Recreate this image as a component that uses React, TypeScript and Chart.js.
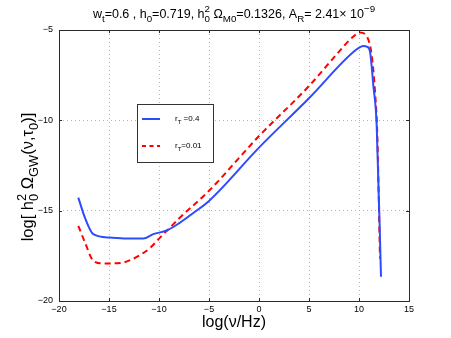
import React, { useEffect, useRef } from "react";
import { Chart, registerables } from "chart.js";

Chart.register(...registerables);

const blueX = [-18.07, -17.4, -16.57, -14.9, -13.23, -11.57, -10.57, -9.23, -7.9, -6.5, -5, 0, 5, 9.77, 10.43, 10.83, 11.1, 11.43, 11.77, 12.2];
const blueY = [-14.28, -15.4, -16.3, -16.49, -16.54, -16.54, -16.3, -16.1, -15.66, -15.1, -14.46, -11.51, -8.78, -6.07, -5.88, -5.93, -6.2, -8.05, -10.3, -18.66];

const redX = [-18.07, -17.4, -16.57, -15.57, -13.9, -12.73, -11.73, -10.9, -9.9, -8.9, -8.07, -5, 0, 5, 8, 9.27, 10.1, 10.83, 11.27, 11.6, 11.83, 12.1];
const redY = [-15.84, -16.76, -17.77, -17.92, -17.9, -17.7, -17.4, -17.07, -16.49, -15.94, -15.47, -13.9, -10.87, -8.1, -6.2, -5.44, -5.14, -5.4, -6.4, -8.4, -10.8, -17.65];

const xTicks = [-20, -15, -10, -5, 0, 5, 10, 15];
const yTicks = [-20, -15, -10, -5];
const seriesLabels = ["0.4", "0.01"];

const FONT = "'Liberation Sans', Arial, Helvetica, sans-serif";

type Seg = { t?: string; s?: "n" | "sub" | "sup"; sub?: string; sup?: string };

function segWidth(ctx: CanvasRenderingContext2D, seg: Seg, size: number, k: number) {
  const small = `${size * k}px ${FONT}`;
  const norm = `${size}px ${FONT}`;
  if (seg.sub !== undefined || seg.sup !== undefined) {
    ctx.font = small;
    return Math.max(ctx.measureText(seg.sub || "").width, ctx.measureText(seg.sup || "").width);
  }
  ctx.font = seg.s === "sub" || seg.s === "sup" ? small : norm;
  return ctx.measureText(seg.t || "").width;
}

function drawRich(ctx: CanvasRenderingContext2D, segs: Seg[], cx: number, baseline: number, size: number, color: string, k: number) {
  let total = 0;
  for (const s of segs) total += segWidth(ctx, s, size, k);
  let x = cx - total / 2;
  ctx.fillStyle = color;
  ctx.textBaseline = "alphabetic";
  ctx.textAlign = "left";
  const small = `${size * k}px ${FONT}`;
  const norm = `${size}px ${FONT}`;
  for (const s of segs) {
    const w = segWidth(ctx, s, size, k);
    if (s.sub !== undefined || s.sup !== undefined) {
      ctx.font = small;
      if (s.sub) ctx.fillText(s.sub, x, baseline + size * 0.3);
      if (s.sup) ctx.fillText(s.sup, x, baseline - size * 0.45);
    } else if (s.s === "sub") {
      ctx.font = small;
      ctx.fillText(s.t || "", x, baseline + size * 0.3);
    } else if (s.s === "sup") {
      ctx.font = small;
      ctx.fillText(s.t || "", x, baseline - size * 0.45);
    } else {
      ctx.font = norm;
      ctx.fillText(s.t || "", x, baseline);
    }
    x += w;
  }
  return total;
}

const titleSegs: Seg[] = [
  { t: "w" }, { t: "t", s: "sub" }, { t: "=0.6 , h" }, { t: "0", s: "sub" }, { t: "=0.719, h" },
  { sub: "0", sup: "2" }, { t: " \u03A9" }, { t: "M0", s: "sub" }, { t: "=0.1326, A" }, { t: "R", s: "sub" },
  { t: "= 2.41\u00D7 10" }, { t: "\u22129", s: "sup" },
];

const yLabelSegs: Seg[] = [
  { t: "log[ h" }, { sub: "0", sup: "2" }, { t: " \u03A9" }, { t: "GW", s: "sub" }, { t: "(\u03BD,\u03C4" }, { t: "0", s: "sub" }, { t: ")]" },
];

const decor = {
  id: "decor",
  afterDraw(chart: any) {
    const ctx: CanvasRenderingContext2D = chart.ctx;
    const a = chart.chartArea;
    const xs = chart.scales.x;
    const ys = chart.scales.y;
    ctx.save();
    ctx.strokeStyle = "#2a2a2a";
    ctx.lineWidth = 1;
    ctx.setLineDash([]);
    ctx.strokeRect(Math.round(a.left) + 0.5, Math.round(a.top) + 0.5, Math.round(a.right - a.left), Math.round(a.bottom - a.top));
    ctx.beginPath();
    for (const v of xTicks) {
      const px = Math.round(xs.getPixelForValue(v)) + 0.5;
      ctx.moveTo(px, a.bottom); ctx.lineTo(px, a.bottom - 3);
      ctx.moveTo(px, a.top); ctx.lineTo(px, a.top + 3);
    }
    for (const v of yTicks) {
      const py = Math.round(ys.getPixelForValue(v)) + 0.5;
      ctx.moveTo(a.left, py); ctx.lineTo(a.left + 3, py);
      ctx.moveTo(a.right, py); ctx.lineTo(a.right - 3, py);
    }
    ctx.stroke();
    const cx = (a.left + a.right) / 2;
    drawRich(ctx, titleSegs, cx, 18, 12.5, "#000", 0.78);
    ctx.font = `16px ${FONT}`;
    ctx.fillStyle = "#000";
    ctx.textAlign = "center";
    ctx.textBaseline = "alphabetic";
    ctx.fillText("log(\u03BD/Hz)", cx, 327);
    ctx.save();
    ctx.translate(33, 177);
    ctx.rotate(-Math.PI / 2);
    drawRich(ctx, yLabelSegs, 0, 0, 16.5, "#000", 0.78);
    ctx.restore();
    const lx = 137, ly = 104, lw = 76, lh = 58;
    ctx.fillStyle = "#fff";
    ctx.fillRect(lx, ly, lw, lh);
    ctx.strokeStyle = "#333";
    ctx.lineWidth = 1;
    ctx.strokeRect(lx + 0.5, ly + 0.5, lw, lh);
    const rows = [
      { y: 119, color: "rgb(45,75,255)", dash: [] as number[], label: seriesLabels[0], gap: " " },
      { y: 146, color: "#ff0000", dash: [4, 3.5], label: seriesLabels[1], gap: "" },
    ];
    for (const r of rows) {
      ctx.strokeStyle = r.color;
      ctx.lineWidth = 2;
      ctx.setLineDash(r.dash);
      ctx.beginPath();
      ctx.moveTo(142, r.y);
      ctx.lineTo(160, r.y);
      ctx.stroke();
      ctx.setLineDash([]);
      ctx.fillStyle = "#000";
      ctx.textAlign = "left";
      ctx.font = `8px ${FONT}`;
      ctx.fillText("r", 175, r.y + 2);
      const rw = ctx.measureText("r").width;
      ctx.font = `6px ${FONT}`;
      ctx.fillText("T", 175 + rw, r.y + 5);
      const tw = ctx.measureText("T").width;
      ctx.font = `8px ${FONT}`;
      ctx.fillText(r.gap + "=" + r.label, 175 + rw + tw, r.y + 2);
    }
    ctx.restore();
  },
};

export default function App() {
  const ref = useRef<HTMLCanvasElement | null>(null);
  useEffect(() => {
    if (!ref.current) return;
    const fmt = (v: any) => {
      const n = Number(v);
      return n < 0 ? "\u2212" + Math.abs(n) : String(n);
    };
    const chart = new Chart(ref.current, {
      type: "line",
      data: {
        datasets: [
          {
            data: blueX.map((x, i) => ({ x, y: blueY[i] })),
            borderColor: "rgb(45,75,255)",
            borderWidth: 2,
            pointRadius: 0,
            cubicInterpolationMode: "monotone",
            fill: false,
          },
          {
            data: redX.map((x, i) => ({ x, y: redY[i] })),
            borderColor: "#ff0000",
            borderWidth: 2,
            borderDash: [6, 4],
            pointRadius: 0,
            cubicInterpolationMode: "monotone",
            fill: false,
          },
        ],
      },
      plugins: [decor],
      options: {
        animation: false,
        responsive: false,
        layout: { padding: { top: 30, right: 42, left: 0, bottom: 0 } },
        plugins: { legend: { display: false }, tooltip: { enabled: false }, title: { display: false } },
        scales: {
          x: {
            type: "linear",
            min: -20,
            max: 15,
            afterFit: (s: any) => { s.height = 37; },
            afterBuildTicks: (s: any) => { s.ticks = xTicks.map((v) => ({ value: v })); },
            ticks: { font: { size: 9, family: FONT }, color: "#000", padding: 3, callback: fmt, maxRotation: 0, autoSkip: false },
            grid: { color: "#b5b5b5", drawTicks: false } as any,
            border: { display: false, dash: [1, 3] },
          },
          y: {
            type: "linear",
            min: -20,
            max: -5,
            afterFit: (s: any) => { s.width = 59; },
            afterBuildTicks: (s: any) => { s.ticks = yTicks.map((v) => ({ value: v })); },
            ticks: { font: { size: 9, family: FONT }, color: "#000", padding: 6, callback: fmt, autoSkip: false },
            grid: { color: "#b5b5b5", drawTicks: false } as any,
            border: { display: false, dash: [1, 3] },
          },
        },
      } as any,
    });
    return () => chart.destroy();
  }, []);
  return (
    <div style={{ position: "fixed", left: 0, top: 0, width: 451, height: 338, background: "#fff" }}>
      <canvas ref={ref} width={451} height={338} style={{ display: "block" }} />
    </div>
  );
}
